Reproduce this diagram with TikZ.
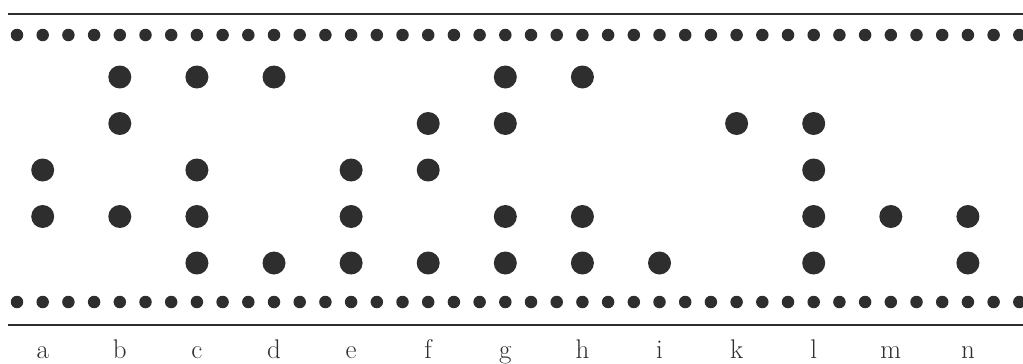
\documentclass[tikz,border=0pt]{standalone}
\usetikzlibrary{calc}
\definecolor{ink}{HTML}{2E2E2E}
\begin{document}
\begin{tikzpicture}[x=1pt,y=-1pt,
  hole/.style={circle,fill=ink,inner sep=0pt,minimum size=23pt},
  sprocket/.style={circle,fill=ink,inner sep=0pt,minimum size=12.5pt},
  edge/.style={draw=ink,line width=2.4pt},
  lbl/.style={font=\fontsize{27}{27}\selectfont,anchor=base,inner sep=0pt,text=ink}]
\useasboundingbox (0,0) rectangle (1023,364);
% edges of the tape
\coordinate (tl) at (8,14);   \coordinate (tr) at (1023,14);
\coordinate (bl) at (8,325);  \coordinate (br) at (1023,325);
\draw[edge] (tl) -- (tr);
\draw[edge] (bl) -- (br);
% sprocket holes, three per code column
\foreach \k in {0,...,39}{
  \node[sprocket] (st\k) at (17+25.7*\k,35) {};
  \node[sprocket] (sb\k) at (17+25.7*\k,302) {};
}
% code columns: label / rows that carry a hole
\foreach \lab/\rows [count=\i from 0] in {
  a/{3,4}, b/{1,2,4}, c/{1,3,4,5}, d/{1,5}, e/{3,4,5}, f/{2,3,5},
  g/{1,2,4,5}, h/{1,4,5}, i/{5}, k/{2}, l/{2,3,4,5}, m/{4}, n/{4,5}}{
  \pgfmathsetmacro\cx{17+25.7*(1+3*\i)}
  \foreach \r in \rows{
    \node[hole] (h\lab\r) at (\cx,{77+46.5*(\r-1)}) {};
  }
  \node[lbl] (lab\lab) at (\cx,358) {\lab};
}
\end{tikzpicture}
\end{document}
